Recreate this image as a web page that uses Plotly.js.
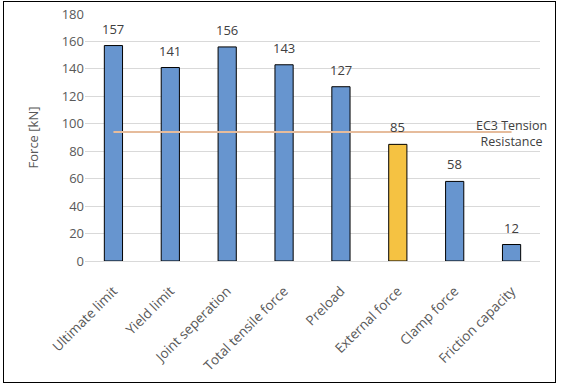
<!DOCTYPE html>
<html><head><meta charset="utf-8">
<script src="https://cdn.plot.ly/plotly-3.0.1.min.js"></script>
<style>
html,body{margin:0;padding:0;background:#fff;}
#wrap{position:relative;width:561px;height:387px;}
#chart{position:absolute;left:0;top:0;width:561px;height:387px;}
#border{position:absolute;left:3px;top:1px;width:551px;height:380px;border:1px solid #000;pointer-events:none;}
</style></head>
<body><div id="wrap"><div id="chart"></div><div id="border"></div></div>
<script>
const categories = ["Ultimate limit","Yield limit","Joint seperation","Total tensile force","Preload","External force","Clamp force","Friction capacity"];
const forces = [157,141,156,143,127,85,58,12];
const barColors = ["#6795CF","#6795CF","#6795CF","#6795CF","#6795CF","#F5C242","#6795CF","#6795CF"];
const ec3Resistance = [94,94,94,94,94,94,94,94];
const ec3Label = "EC3 Tension<br>Resistance";

const font = "'Open Sans', sans-serif";
const traces = [
  {type:"bar", x:categories, y:forces, marker:{color:barColors, line:{color:"#000", width:1}},
   width:0.32, hoverinfo:"skip"},
  {type:"scatter", mode:"lines", x:categories, y:ec3Resistance, line:{color:"#E6BC9C", width:2}, hoverinfo:"skip"}
];
const valueLabels = categories.map((c,i)=>({x:c, y:forces[i], xref:"x", yref:"y", yanchor:"bottom", yshift:6,
  text:String(forces[i]), showarrow:false, font:{family:font, size:13, color:"#404040"}}));
const layout = {
  width:561, height:387, showlegend:false,
  paper_bgcolor:"#fff", plot_bgcolor:"#fff",
  margin:{l:84.5, r:20.5, t:14, b:126},
  font:{family:font, size:13, color:"#595959"},
  xaxis:{type:"category", range:[-0.5,7.5], autorange:false, tickangle:-45, showgrid:false, showline:true, linecolor:"#D9D9D9", linewidth:1, ticks:"",
         ticklabelstandoff:16, tickfont:{family:font, size:13.5, color:"#595959"}},
  yaxis:{range:[0,180], dtick:20, showgrid:true, gridcolor:"#D9D9D9", gridwidth:1, zeroline:false,
         showline:false, ticks:"", tickfont:{family:font, size:13, color:"#595959"},
         title:{text:"Force [kN]", font:{family:font, size:13, color:"#595959"}, standoff:20}},
  annotations:valueLabels.concat([{x:categories[7], xref:"x", xanchor:"center", y:ec3Resistance[0], yref:"y", yanchor:"middle", yshift:-1, xshift:0,
                text:ec3Label, showarrow:false, align:"center", font:{family:font, size:12.5, color:"#404040"}}])
};
Plotly.newPlot("chart", traces, layout, {displayModeBar:false, staticPlot:true});
</script></body></html>
